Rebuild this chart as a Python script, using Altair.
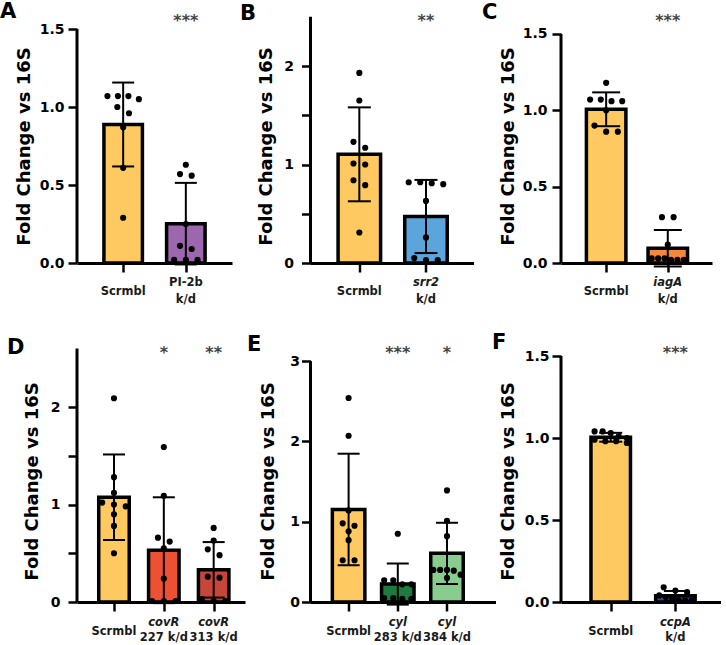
import altair as alt
import pandas as pd

FONT = "DejaVu Sans"

# ---------------- data ----------------
panel_ids = ["A", "B", "C", "D", "E", "F"]

A_line1 = ["Scrmbl", "PI-2b"]
A_line2 = ["", "k/d"]
A_italic = [False, False]
A_stars = ["", "***"]
A_scrmbl = [1.07, 1.07, 1.05, 1.07, 1.00, 0.96, 0.87, 0.61, 0.29]
A_kd = [0.63, 0.56, 0.57, 0.25, 0.11, 0.09, 0.02, 0.02, 0.02]
A_ticks = [0, 0.5, 1.0, 1.5]

B_line1 = ["Scrmbl", "srr2"]
B_line2 = ["", "k/d"]
B_italic = [False, True]
B_stars = ["", "**"]
B_scrmbl = [1.93, 1.65, 1.23, 1.17, 1.01, 1.00, 0.84, 0.79, 0.31]
B_kd = [0.82, 0.81, 0.82, 0.80, 0.63, 0.26, 0.05, 0.03, 0.03]
B_ticks = [0, 0.5, 1, 1.5, 2]

C_line1 = ["Scrmbl", "iagA"]
C_line2 = ["", "k/d"]
C_italic = [False, True]
C_stars = ["", "***"]
C_scrmbl = [1.18, 1.07, 1.06, 1.06, 1.07, 1.00, 0.90, 0.86, 0.86]
C_kd = [0.30, 0.30, 0.12, 0.03, 0.02, 0.03, 0.02, 0.03, 0.02]
C_ticks = [0, 0.5, 1.0, 1.5]

D_line1 = ["Scrmbl", "covR", "covR"]
D_line2 = ["", "227 k/d", "313 k/d"]
D_italic = [False, True, True]
D_stars = ["", "*", "**"]
D_scrmbl = [2.09, 1.28, 1.12, 1.02, 1.00, 0.98, 0.90, 0.78, 0.50]
D_kd227 = [1.59, 1.09, 0.66, 0.62, 0.55, 0.24, 0.01, 0.01, 0.01]
D_kd313 = [0.76, 0.63, 0.54, 0.48, 0.26, 0.25, 0.03, 0.01, 0.01]
D_ticks = [0, 0.5, 1, 1.5, 2]

E_line1 = ["Scrmbl", "cyl", "cyl"]
E_line2 = ["", "283 k/d", "384 k/d"]
E_italic = [False, True, True]
E_stars = ["", "***", "*"]
E_scrmbl = [2.54, 2.07, 1.14, 0.98, 0.95, 0.88, 0.77, 0.52, 0.52]
E_kd283 = [0.85, 0.27, 0.22, 0.22, 0.27, 0.05, 0.04, 0.04, 0.05]
E_kd384 = [1.39, 1.01, 0.82, 0.40, 0.40, 0.39, 0.40, 0.30, 0.34]
E_ticks = [0, 1, 2, 3]

F_line1 = ["Scrmbl", "ccpA"]
F_line2 = ["", "k/d"]
F_italic = [False, True]
F_stars = ["", "***"]
F_scrmbl = [1.04, 1.04, 1.03, 1.01, 1.00, 0.99, 0.98, 0.97, 0.98]
F_kd = [0.09, 0.07, 0.06, 0.04, 0.03, 0.02, 0.01, 0.01, 0.01]
F_ticks = [0, 0.5, 1.0, 1.5]

axis_tops = [1.5, 2.5, 1.5, 2.6, 3, 1.5]

DATA = {
    "A": dict(l1=A_line1, l2=A_line2, it=A_italic, st=A_stars, vals=[A_scrmbl, A_kd], ticks=A_ticks),
    "B": dict(l1=B_line1, l2=B_line2, it=B_italic, st=B_stars, vals=[B_scrmbl, B_kd], ticks=B_ticks),
    "C": dict(l1=C_line1, l2=C_line2, it=C_italic, st=C_stars, vals=[C_scrmbl, C_kd], ticks=C_ticks),
    "D": dict(l1=D_line1, l2=D_line2, it=D_italic, st=D_stars, vals=[D_scrmbl, D_kd227, D_kd313], ticks=D_ticks),
    "E": dict(l1=E_line1, l2=E_line2, it=E_italic, st=E_stars, vals=[E_scrmbl, E_kd283, E_kd384], ticks=E_ticks),
    "F": dict(l1=F_line1, l2=F_line2, it=F_italic, st=F_stars, vals=[F_scrmbl, F_kd], ticks=F_ticks),
}

# ---------------- styles ----------------
BAR_COLORS = {
    "Scrmbl": "#FEC961",
    "PI-2b k/d": "#9C67AE",
    "srr2 k/d": "#5BA4DC",
    "iagA k/d": "#F3873A",
    "covR 227 k/d": "#EE5033",
    "covR 313 k/d": "#C6463A",
    "cyl 283 k/d": "#1E7B3F",
    "cyl 384 k/d": "#88CD8E",
    "ccpA k/d": "#2F4F8F",
}

# layout in pixels per panel
STYLE = {
    "A": dict(L=44, S=67, W=155, H=246, ppu=156, bw=42, cap=22, lx=-77, ly=-16, tx=-52.5, ty=129, lpad=4, fmt="f1", sy=9, ys=29, y1=20, y2=37),
    "B": dict(L=46.7, S=71, W=163, H=246, ppu=98.5, bw=46, cap=23, lx=-70.5, ly=-14, tx=-43.8, ty=129, lpad=8, fmt="int", sy=9, ys=29, y1=20, y2=37),
    "C": dict(L=43, S=66, W=151, H=246, ppu=152.7, bw=43, cap=28, lx=-79, ly=-15, tx=-53, ty=129, lpad=5, fmt="f1", sy=9, ys=29, y1=20, y2=37),
    "D": dict(L=34, S=53, W=168, H=254, ppu=97.5, bw=34, cap=22, lx=-70, ly=-11, tx=-45, ty=133, lpad=8, fmt="int", sy=10, ys=30, y1=21, y2=36),
    "E": dict(L=35, S=52, W=185, H=254, ppu=80.3, bw=36, cap=22, lx=-63.5, ly=-14, tx=-42.5, ty=133, lpad=2, fmt="d", sy=10, ys=30, y1=21, y2=36),
    "F": dict(L=47.7, S=69, W=160, H=254, ppu=164, bw=43, cap=23, lx=-69, ly=-16, tx=-53, ty=133, lpad=3, fmt="f1", sy=10, ys=30, y1=21, y2=36),
}

DOT = 7.0


def swarm(vals, ppu, max_spread, base_step=12.5):
    """Arrange dots in horizontal rows (GraphPad-like scatter)."""
    order = sorted(range(len(vals)), key=lambda i: -vals[i])
    rows = []
    for i in order:
        if rows and (vals[rows[-1][0]] - vals[i]) * ppu < DOT:
            rows[-1].append(i)
        else:
            rows.append([i])
    off = [0.0] * len(vals)
    for r in rows:
        n = len(r)
        if n == 1:
            continue
        step = min(base_step, max_spread / (n - 1))
        for k, i in enumerate(r):
            off[i] = (k - (n - 1) / 2) * step
    return off


def build(pid, top):
    d = DATA[pid]
    st = STYLE[pid]
    n = len(d["l1"])
    keys = [(a + " " + b).strip() for a, b in zip(d["l1"], d["l2"])]
    cols = [BAR_COLORS[k] for k in keys]
    H, W, S, L = st["H"], st["W"], st["S"], st["L"]
    ymax = H / st["ppu"]

    rows = []
    for gi, vals in enumerate(d["vals"]):
        offs = swarm(vals, st["ppu"], 0.8 * st["bw"])
        for v, o in zip(vals, offs):
            rows.append(dict(g=gi, key=keys[gi], v=v, xj=gi + o / S))
    df = pd.DataFrame(rows)

    xs = alt.Scale(domain=[-L / S, (W - L) / S], nice=False, zero=False)
    ys = alt.Scale(domain=[0, ymax], nice=False, zero=True)

    if st["fmt"] == "f1":
        lexpr = "format(datum.value, '.1f')"
    elif st["fmt"] == "int":
        lexpr = "datum.value % 1 === 0 ? format(datum.value, 'd') : ''"
    else:
        lexpr = "format(datum.value, 'd')"

    xax = alt.Axis(values=list(range(n)), labels=False, title=None, grid=False,
                   domain=True, domainColor="black", domainWidth=3,
                   ticks=True, tickColor="black", tickWidth=2.5, tickSize=9)
    yax = alt.Axis(values=d["ticks"], labelExpr=lexpr, title="Fold Change vs 16S",
                   grid=False, domain=False, ticks=True, tickColor="black",
                   tickWidth=2.5, tickSize=9, labelPadding=st["lpad"],
                   labelFont=FONT, labelFontWeight="bold", labelFontSize=14,
                   labelColor="black", titleFont=FONT, titleFontWeight="bold",
                   titleFontSize=18, titleColor="black", titleX=st["tx"],
                   titleY=st["ty"], titleBaseline="middle", titleAngle=270)

    def X(f):
        return alt.X(f, scale=xs, axis=xax)

    def Y(f):
        return alt.Y(f, scale=ys, axis=yax)

    base = alt.Chart(df)
    bars = base.mark_bar(width=st["bw"] - 3.5, stroke="black", strokeWidth=3.5,
                         orient="vertical").encode(
        x=X("g:Q"),
        y=Y("mean(v):Q"),
        color=alt.Color("key:N", scale=alt.Scale(domain=keys, range=cols), legend=None),
    )

    agg = base.transform_aggregate(m="mean(v)", sd="stdev(v)", groupby=["g"]).transform_calculate(
        lo="datum.m - datum.sd", hi="datum.m + datum.sd")
    rule = agg.mark_rule(color="black", strokeWidth=2).encode(
        x=X("g:Q"), y=Y("lo:Q"), y2="hi:Q")
    caps = agg.transform_fold(["lo", "hi"], as_=["end", "yv"]).mark_tick(
        orient="horizontal", color="black", size=st["cap"], thickness=2, opacity=1).encode(
        x=X("g:Q"), y=Y("yv:Q"))
    pts = base.mark_circle(size=38, color="black", opacity=1).encode(
        x=X("xj:Q"), y=Y("v:Q"))
    axline = alt.Chart(pd.DataFrame({"top": [top]})).mark_rule(color="black", strokeWidth=3).encode(
        x=alt.value(0), y=Y("top:Q"), y2=alt.datum(0))

    ldf = pd.DataFrame({"g": list(range(n)), "l1": d["l1"], "l2": d["l2"],
                        "it": d["it"], "star": d["st"]})
    lb = alt.Chart(ldf)
    txt = dict(font=FONT, fontWeight="bold", fontSize=11.5, color="#1a1a1a",
               baseline="middle", align="center")
    single = lb.transform_filter("datum.l2 == ''").mark_text(**txt).encode(
        x=X("g:Q"), y=alt.value(H + st["ys"]), text="l1:N")
    l1n = lb.transform_filter("datum.l2 != '' && !datum.it").mark_text(**txt).encode(
        x=X("g:Q"), y=alt.value(H + st["y1"]), text="l1:N")
    l1i = lb.transform_filter("datum.l2 != '' && datum.it").mark_text(fontStyle="italic", **txt).encode(
        x=X("g:Q"), y=alt.value(H + st["y1"]), text="l1:N")
    l2 = lb.transform_filter("datum.l2 != ''").mark_text(**txt).encode(
        x=X("g:Q"), y=alt.value(H + st["y2"]), text="l2:N")
    stars = lb.transform_filter("datum.star != ''").mark_text(
        font=FONT, fontWeight="bold", fontSize=16, color="#444444",
        baseline="alphabetic", align="center").encode(
        x=X("g:Q"), y=alt.value(st["sy"]), text="star:N")
    letter = alt.Chart(pd.DataFrame({"p": [pid]})).mark_text(
        font=FONT, fontWeight="bold", fontSize=21, align="left", baseline="top",
        color="black").encode(x=alt.value(st["lx"]), y=alt.value(st["ly"]), text="p:N")

    return alt.layer(bars, rule, caps, pts, axline, single, l1n, l1i, l2, stars, letter).properties(
        width=W, height=H)


panels = [build(p, t) for p, t in zip(panel_ids, axis_tops)]

chart = alt.concat(
    *panels, columns=3, spacing={"row": 85, "column": 65.5}, bounds="flush", align="each"
).resolve_scale(color="independent").properties(
    padding={"left": 0, "top": 1, "right": 0, "bottom": 0}
).configure_view(stroke=None)

chart.save("out.html", embed_options={"renderer": "svg", "actions": False})
